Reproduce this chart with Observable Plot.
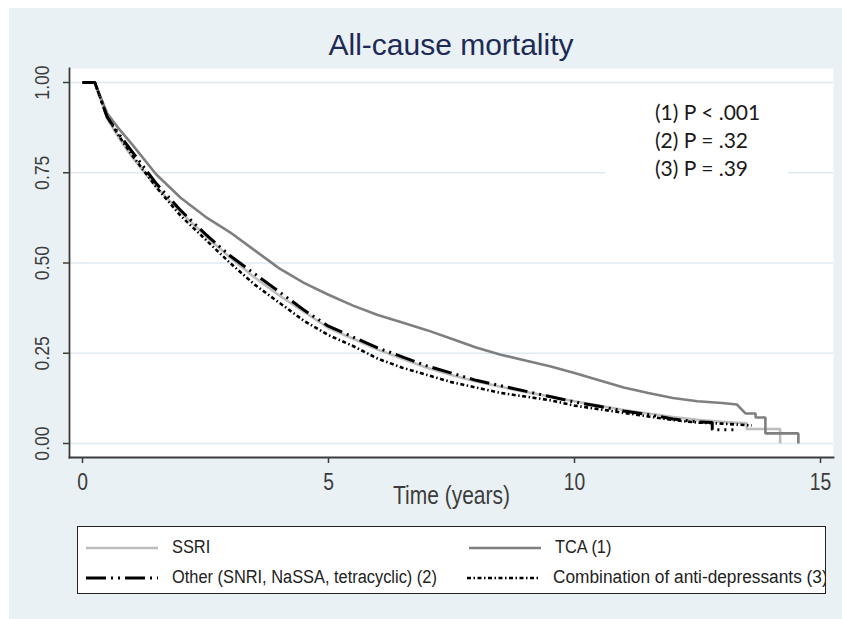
<!DOCTYPE html>
<html>
<head>
<meta charset="utf-8">
<script src="https://cdn.jsdelivr.net/npm/d3@7"></script>
<script src="https://cdn.jsdelivr.net/npm/@observablehq/plot@0.6"></script>
<style>
  body { margin: 0; background: #ffffff; }
  #wrap { position: relative; width: 842px; height: 619px; overflow: hidden; background: #ffffff; }
  #bg { position: absolute; left: 9px; top: 8px; width: 833px; height: 611px; background: #e9f1f4; }
  #chart { position: absolute; left: 0; top: 0; }
  #title { position: absolute; left: 0; top: 28px; width: 902px; text-align: center;
           font-family: "Liberation Sans", Arial, sans-serif; font-size: 30px; color: #1c2a55; line-height: 34px; }
  #pbox { position: absolute; left: 605px; top: 96px; width: 183px; height: 86px; background: #ffffff;
          font-family: Lato, "Open Sans", sans-serif; font-size: 21px; color: #1a1a1a; }
  #pbox div { position: absolute; left: 50px; line-height: 28px; white-space: nowrap; }
  #legend { position: absolute; left: 77px; top: 526px; width: 747px; height: 66px; background: #ffffff;
            border: 1.5px solid #222; overflow: hidden;
            font-family: "Liberation Sans", Arial, sans-serif; font-size: 18px; color: #222; }
  #legend .t { position: absolute; white-space: nowrap; line-height: 20px; transform: scaleX(0.91); transform-origin: 0 50%; }
  #legend .t.wide { transform: scaleX(0.96); }
  #legend svg { position: absolute; left: 0; top: 0; }
</style>
</head>
<body>
<div id="wrap">
  <div id="bg"></div>
  <div id="chart"></div>
  <div id="title">All-cause mortality</div>
  <div id="pbox"></div>
  <div id="legend"></div>
</div>
<script>
// ---- Data ----
const seriesNames = ["SSRI", "TCA (1)", "Other (SNRI, NaSSA, tetracyclic) (2)", "Combination of anti-depressants (3)"];

const ssriTime = [0, 0.25, 0.5, 0.75, 1, 1.5, 2, 2.5, 3, 3.5, 4, 4.5, 5, 5.5, 6, 6.5, 7, 7.5, 8, 8.5, 9, 9.5, 10, 10.5, 11, 11.5, 12, 12.5, 13, 13.5, 13.5, 14.18, 14.18];
const ssriSurv = [1, 1, 0.9, 0.845, 0.795, 0.71, 0.64, 0.575, 0.515, 0.46, 0.41, 0.365, 0.32, 0.29, 0.26, 0.235, 0.21, 0.19, 0.172, 0.157, 0.143, 0.13, 0.117, 0.105, 0.093, 0.083, 0.073, 0.066, 0.06, 0.056, 0.04, 0.04, 0];

const tcaTime = [0, 0.25, 0.5, 0.75, 1, 1.5, 2, 2.5, 3, 3.5, 4, 4.5, 5, 5.5, 6, 6.5, 7, 7.5, 8, 8.5, 9, 9.5, 10, 10.5, 11, 11.5, 12, 12.5, 13, 13.3, 13.48, 13.68, 13.68, 13.88, 13.88, 14.55, 14.55];
const tcaSurv = [1, 1, 0.915, 0.87, 0.83, 0.745, 0.68, 0.628, 0.585, 0.535, 0.485, 0.445, 0.412, 0.382, 0.356, 0.335, 0.314, 0.29, 0.266, 0.246, 0.23, 0.214, 0.195, 0.175, 0.155, 0.14, 0.126, 0.117, 0.112, 0.108, 0.083, 0.083, 0.072, 0.072, 0.028, 0.028, 0];

const otherTime = [0, 0.25, 0.5, 0.75, 1, 1.5, 2, 2.5, 3, 3.5, 4, 4.5, 5, 5.5, 6, 6.5, 7, 7.5, 8, 8.5, 9, 9.5, 10, 10.5, 11, 11.5, 12, 12.5, 12.8, 12.8, 13.23];
const otherSurv = [1, 1, 0.905, 0.855, 0.81, 0.72, 0.645, 0.58, 0.52, 0.47, 0.42, 0.37, 0.325, 0.295, 0.265, 0.24, 0.215, 0.195, 0.175, 0.16, 0.145, 0.13, 0.115, 0.103, 0.09, 0.08, 0.068, 0.06, 0.058, 0.038, 0.038];

const combTime = [0, 0.25, 0.5, 0.75, 1, 1.5, 2, 2.5, 3, 3.5, 4, 4.5, 5, 5.5, 6, 6.5, 7, 7.5, 8, 8.5, 9, 9.5, 10, 10.5, 11, 11.5, 12, 12.5, 13, 13.6];
const combSurv = [1, 1, 0.905, 0.85, 0.8, 0.71, 0.63, 0.565, 0.5, 0.44, 0.39, 0.34, 0.3, 0.27, 0.235, 0.21, 0.19, 0.17, 0.155, 0.14, 0.13, 0.12, 0.105, 0.095, 0.085, 0.075, 0.065, 0.058, 0.055, 0.05];

const xTicks = [0, 5, 10, 15];
const yTicks = [0, 0.25, 0.5, 0.75, 1];
const pLabels = ["(1)  P < .001", "(2)  P = .32", "(3)  P = .39"];
const xLabel = "Time (years)";

// ---- Styles ----
const styles = [
  {stroke: "#bdbdbd", strokeWidth: 2.6, dash: null},
  {stroke: "#7f7f7f", strokeWidth: 2.6, dash: null},
  {stroke: "#000000", strokeWidth: 3, dash: "20 5 2 5 2 5"},
  {stroke: "#000000", strokeWidth: 2.6, dash: "4 2.5 1.5 2.5"}
];

const toRows = (name, ts, ss) => ts.map((t, i) => ({group: name, time: t, surv: ss[i]}));
const allSeries = [
  toRows(seriesNames[0], ssriTime, ssriSurv),
  toRows(seriesNames[1], tcaTime, tcaSurv),
  toRows(seriesNames[2], otherTime, otherSurv),
  toRows(seriesNames[3], combTime, combSurv)
];

const lineMarks = allSeries.map((rows, i) => Plot.line(rows, {
  x: "time", y: "surv",
  stroke: styles[i].stroke, strokeWidth: styles[i].strokeWidth,
  strokeDasharray: styles[i].dash || undefined,
  strokeLinejoin: "miter", strokeLinecap: "butt"
}));

const axisColor = "#3c3c3c";
const chart = Plot.plot({
  width: 842, height: 619,
  marginLeft: 69, marginRight: 9, marginTop: 68, marginBottom: 162,
  style: {background: "transparent", fontFamily: "'Liberation Sans', Arial, sans-serif", fontSize: "22px", color: axisColor},
  x: {domain: [0, 15], insetLeft: 13, insetRight: 13},
  y: {domain: [0, 1], insetTop: 14, insetBottom: 14},
  marks: [
    Plot.frame({fill: "#ffffff", stroke: null}),
    Plot.gridY(yTicks, {stroke: "#dfeaf0", strokeOpacity: 1, strokeWidth: 1.5}),
    ...lineMarks,
    Plot.frame({anchor: "left", stroke: axisColor, strokeWidth: 1.8}),
    Plot.frame({anchor: "bottom", stroke: axisColor, strokeWidth: 1.8}),
    Plot.axisX(xTicks, {tickSize: 6, tickPadding: 10, label: null, stroke: axisColor, strokeWidth: 1.5, fontSize: 23}),
    Plot.axisY(yTicks, {tickSize: 6, text: null, label: null, stroke: axisColor, strokeWidth: 1.5}),
    Plot.text(yTicks, {y: d => d, text: d => d.toFixed(2), frameAnchor: "left", dx: -27, rotate: -90, textAnchor: "middle", fontSize: 21, fill: axisColor}),
    Plot.text([xLabel], {x: 7.5, frameAnchor: "bottom", dy: 46, text: d => d, fontSize: 25, fill: axisColor})
  ]
});
// Condense axis texts horizontally (Stata-like narrow font)
chart.querySelectorAll("text").forEach(t => {
  const tr = t.getAttribute("transform");
  if (tr && !t.getAttribute("x")) t.setAttribute("transform", tr + " scale(0.84,1)");
});
document.getElementById("chart").appendChild(chart);

// P-values
const pbox = document.getElementById("pbox");
pLabels.forEach((s, i) => {
  const d = document.createElement("div");
  d.style.top = (2 + i * 28) + "px";
  d.textContent = s;
  pbox.appendChild(d);
});

// Legend
const legend = document.getElementById("legend");
const ns = "http://www.w3.org/2000/svg";
const lsvg = document.createElementNS(ns, "svg");
lsvg.setAttribute("width", 747); lsvg.setAttribute("height", 66);
const pos = [[8, 21], [391, 21], [8, 51], [389, 51]];
pos.forEach(([x, y], i) => {
  const l = document.createElementNS(ns, "line");
  l.setAttribute("x1", x); l.setAttribute("x2", x + 72);
  l.setAttribute("y1", y); l.setAttribute("y2", y);
  l.setAttribute("stroke", styles[i].stroke);
  l.setAttribute("stroke-width", styles[i].strokeWidth);
  if (styles[i].dash) l.setAttribute("stroke-dasharray", styles[i].dash);
  lsvg.appendChild(l);
  const t = document.createElement("div");
  t.className = i === 3 ? "t wide" : "t";
  t.style.left = (x + 86) + "px";
  t.style.top = (y - 11) + "px";
  t.textContent = seriesNames[i];
  legend.appendChild(t);
});
legend.appendChild(lsvg);
</script>
</body>
</html>
